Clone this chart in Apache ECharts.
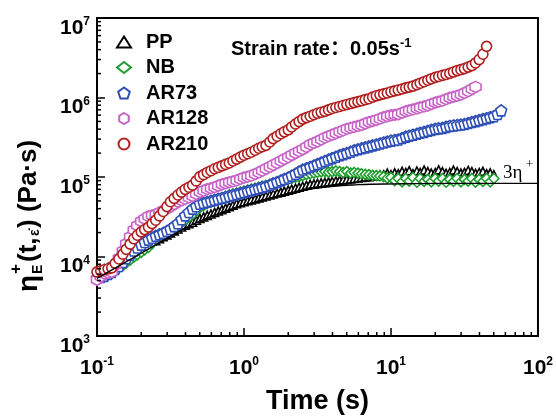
<!DOCTYPE html>
<html><head><meta charset="utf-8">
<script src="https://cdn.jsdelivr.net/npm/echarts@6/dist/echarts.min.js"></script>
<style>html,body{margin:0;padding:0;background:#fff}#c{width:556px;height:420px}</style>
</head><body><div id="c"></div>
<script>
// Time (s), shared sampling grid
const times = [0.1, 0.106, 0.112, 0.119, 0.126, 0.133, 0.141, 0.15, 0.158, 0.168,
  0.178, 0.188, 0.2, 0.211, 0.224, 0.237, 0.251, 0.266, 0.282, 0.299,
  0.316, 0.335, 0.355, 0.376, 0.398, 0.422, 0.447, 0.473, 0.501, 0.531,
  0.562, 0.596, 0.631, 0.668, 0.708, 0.75, 0.794, 0.841, 0.891, 0.944,
  1.0, 1.06, 1.12, 1.19, 1.26, 1.33, 1.41, 1.5, 1.58, 1.68,
  1.78, 1.88, 2.0, 2.11, 2.24, 2.37, 2.51, 2.66, 2.82, 2.99,
  3.16, 3.35, 3.55, 3.76, 3.98, 4.22, 4.47, 4.73, 5.01, 5.31,
  5.62, 5.96, 6.31, 6.68, 7.08, 7.5, 7.94, 8.41, 8.91, 9.44,
  10, 10.6, 11.2, 11.9, 12.6, 13.3, 14.1, 15.0, 15.8, 16.8,
  17.8, 18.8, 20.0, 21.1, 22.4, 23.7, 25.1, 26.6, 28.2, 29.9,
  31.6, 33.5, 35.5, 37.6, 39.8, 42.2, 44.7, 47.3, 50.1, 53.1,
  56.2, 59.6];

const PP = [6.2e3, 6.6e3, 7.0e3, 7.3e3, 7.6e3, 7.9e3, 8.3e3, 8.9e3, 9.5e3, 1.02e4,
  1.1e4, 1.3e4, 1.45e4, 1.5e4, 1.54e4, 1.56e4, 1.58e4, 1.67e4, 1.77e4, 1.87e4,
  1.98e4, 2.1e4, 2.22e4, 2.35e4, 2.48e4, 2.59e4, 2.7e4, 2.86e4, 3.02e4, 3.15e4,
  3.29e4, 3.43e4, 3.58e4, 3.73e4, 3.89e4, 4.06e4, 4.24e4, 4.42e4, 4.61e4, 4.74e4,
  4.88e4, 5.02e4, 5.16e4, 5.31e4, 5.46e4, 5.61e4, 5.77e4, 5.94e4, 6.11e4, 6.28e4,
  6.46e4, 6.65e4, 6.84e4, 7.03e4, 7.23e4, 7.44e4, 7.65e4, 7.87e4, 8.09e4, 8.2e4,
  8.32e4, 8.45e4, 8.57e4, 8.69e4, 8.81e4, 8.93e4, 9.06e4, 9.19e4, 9.32e4, 9.45e4,
  9.59e4, 9.72e4, 9.86e4, 1.0e5, 1.01e5, 1.03e5, 1.04e5, 1.06e5, 1.07e5, 1.12e5,
  1.07e5, 1.13e5, 1.1e5, 1.18e5, 1.14e5, 1.2e5, 1.1e5, 1.19e5, 1.14e5, 1.22e5,
  1.17e5, 1.12e5, 1.14e5, 1.23e5, 1.17e5, 1.11e5, 1.14e5, 1.22e5, 1.17e5, 1.12e5,
  1.14e5, 1.21e5, 1.17e5, 1.11e5, 1.14e5, 1.18e5, 1.1e5, 1.13e5, 1.07e5];

const NB = [5.1e3, 5.35e3, 5.6e3, 5.9e3, 6.2e3, 6.7e3, 7.2e3, 7.7e3, 8.3e3, 9.0e3,
  9.8e3, 1.05e4, 1.13e4, 1.21e4, 1.3e4, 1.46e4, 1.63e4, 1.77e4, 1.92e4, 2.03e4,
  2.15e4, 2.31e4, 2.48e4, 2.66e4, 2.86e4, 3.11e4, 3.38e4, 3.73e4, 4.12e4, 4.36e4,
  4.61e4, 4.81e4, 5.01e4, 5.23e4, 5.46e4, 5.69e4, 5.94e4, 6.11e4, 6.28e4, 6.46e4,
  6.65e4, 6.84e4, 7.03e4, 7.23e4, 7.44e4, 7.65e4, 7.87e4, 8.09e4, 8.32e4, 8.56e4,
  8.81e4, 9.06e4, 9.32e4, 9.59e4, 9.86e4, 1.01e5, 1.04e5, 1.07e5, 1.1e5, 1.12e5,
  1.14e5, 1.16e5, 1.17e5, 1.15e5, 1.17e5, 1.19e5, 1.17e5, 1.14e5, 1.17e5, 1.12e5,
  1.14e5, 1.12e5, 1.1e5, 1.08e5, 1.07e5, 1.05e5, 1.04e5, 1.03e5, 1.01e5, 9.7e4,
  9.86e4, 9.0e4, 9.59e4, 8.7e4, 9.59e4, 8.9e4, 9.86e4, 8.6e4, 9.59e4, 8.8e4,
  9.32e4, 8.7e4, 9.59e4, 8.9e4, 9.59e4, 8.6e4, 9.32e4, 8.8e4, 9.59e4, 8.7e4,
  9.32e4, 8.9e4, 9.59e4, 8.6e4, 9.32e4, 8.8e4, 9.59e4, 8.7e4, 9.59e4];

const AR73 = [5.4e3, 5.55e3, 5.7e3, 6.05e3, 6.4e3, 6.97e3, 7.6e3, 8.5e3, 9.5e3, 1.06e4,
  1.19e4, 1.3e4, 1.41e4, 1.52e4, 1.63e4, 1.72e4, 1.82e4, 1.9e4, 1.98e4, 2.1e4,
  2.22e4, 2.41e4, 2.62e4, 2.94e4, 3.29e4, 3.63e4, 4.0e4, 4.29e4, 4.61e4, 4.74e4,
  4.88e4, 5.02e4, 5.16e4, 5.31e4, 5.46e4, 5.61e4, 5.77e4, 5.94e4, 6.11e4, 6.28e4,
  6.46e4, 6.65e4, 6.84e4, 7.03e4, 7.23e4, 7.44e4, 7.65e4, 7.98e4, 8.32e4, 8.68e4,
  9.06e4, 9.45e4, 9.86e4, 1.04e5, 1.1e5, 1.17e5, 1.24e5, 1.29e5, 1.34e5, 1.4e5,
  1.46e5, 1.52e5, 1.59e5, 1.66e5, 1.73e5, 1.8e5, 1.88e5, 1.94e5, 2.0e5, 2.08e5,
  2.17e5, 2.23e5, 2.3e5, 2.36e5, 2.43e5, 2.5e5, 2.57e5, 2.64e5, 2.72e5, 2.79e5,
  2.87e5, 2.92e5, 2.96e5, 3.09e5, 3.22e5, 3.31e5, 3.4e5, 3.5e5, 3.6e5, 3.7e5,
  3.81e5, 3.92e5, 4.03e5, 4.09e5, 4.15e5, 4.27e5, 4.39e5, 4.45e5, 4.51e5, 4.57e5,
  4.64e5, 4.77e5, 4.91e5, 5.05e5, 5.2e5, 5.35e5, 5.5e5, 5.66e5, 5.82e5, 6.2e5,
  6.89e5];

const AR128 = [5.1e3, 5.6e3, 6.1e3, 6.25e3, 6.4e3, 7.8e3, 9.5e3, 1.17e4, 1.45e4, 1.77e4,
  2.15e4, 2.45e4, 2.78e4, 2.98e4, 3.2e4, 3.29e4, 3.38e4, 3.57e4, 3.78e4, 4.0e4,
  4.24e4, 4.55e4, 4.88e4, 5.09e4, 5.31e4, 5.53e4, 5.77e4, 6.1e4, 6.46e4, 6.74e4,
  7.03e4, 7.23e4, 7.44e4, 7.76e4, 8.09e4, 8.33e4, 8.57e4, 8.81e4, 9.06e4, 9.45e4,
  9.86e4, 1.01e5, 1.04e5, 1.09e5, 1.14e5, 1.2e5, 1.27e5, 1.34e5, 1.42e5, 1.5e5,
  1.59e5, 1.68e5, 1.78e5, 1.89e5, 2.0e5, 2.11e5, 2.23e5, 2.39e5, 2.57e5, 2.68e5,
  2.8e5, 2.96e5, 3.13e5, 3.26e5, 3.4e5, 3.55e5, 3.7e5, 3.86e5, 4.03e5, 4.15e5,
  4.27e5, 4.39e5, 4.51e5, 4.71e5, 4.91e5, 5.05e5, 5.2e5, 5.42e5, 5.65e5, 5.81e5,
  5.98e5, 6.06e5, 6.15e5, 6.42e5, 6.7e5, 6.89e5, 7.08e5, 7.29e5, 7.5e5, 7.71e5,
  7.93e5, 8.27e5, 8.63e5, 8.87e5, 9.12e5, 9.52e5, 9.93e5, 1.02e6, 1.05e6, 1.09e6,
  1.14e6, 1.2e6, 1.28e6, 1.36e6];

const AR210 = [6.4e3, 6.6e3, 6.8e3, 7.0e3, 7.2e3, 8.2e3, 9.3e3, 1.07e4, 1.23e4, 1.43e4,
  1.67e4, 1.85e4, 2.04e4, 2.18e4, 2.34e4, 2.59e4, 2.86e4, 3.24e4, 3.68e4, 4.24e4,
  4.88e4, 5.38e4, 5.94e4, 6.45e4, 7.0e4, 7.44e4, 7.9e4, 8.93e4, 1.01e5, 1.07e5,
  1.14e5, 1.2e5, 1.27e5, 1.32e5, 1.38e5, 1.44e5, 1.5e5, 1.59e5, 1.68e5, 1.78e5,
  1.88e5, 1.96e5, 2.05e5, 2.17e5, 2.3e5, 2.4e5, 2.5e5, 2.76e5, 3.04e5, 3.26e5,
  3.5e5, 3.7e5, 3.92e5, 4.26e5, 4.64e5, 4.98e5, 5.35e5, 5.58e5, 5.82e5, 6.07e5,
  6.33e5, 6.51e5, 6.7e5, 6.98e5, 7.28e5, 7.49e5, 7.71e5, 7.93e5, 8.15e5, 8.39e5,
  8.63e5, 8.87e5, 9.12e5, 9.39e5, 9.66e5, 1.01e6, 1.05e6, 1.08e6, 1.11e6, 1.14e6,
  1.18e6, 1.21e6, 1.24e6, 1.28e6, 1.32e6, 1.35e6, 1.39e6, 1.45e6, 1.51e6, 1.58e6,
  1.65e6, 1.72e6, 1.79e6, 1.84e6, 1.9e6, 1.95e6, 2.01e6, 2.09e6, 2.18e6, 2.24e6,
  2.31e6, 2.41e6, 2.52e6, 2.72e6, 3.0e6, 3.5e6, 4.4e6];

// 3*eta+ (linear viscoelastic envelope)
const lveTime = [0.1, 0.2, 0.46, 0.92, 1.8, 3.2, 6.0, 11, 20, 100];
const lveVal  = [5.3e3, 1.1e4, 2.6e4, 4.2e4, 5.9e4, 7.3e4, 8.0e4, 8.2e4, 8.3e4, 8.3e4];

const xTicks = [0.1, 1, 10, 100];
const yTicks = [1e3, 1e4, 1e5, 1e6, 1e7];

const seriesNames = ['PP', 'NB', 'AR73', 'AR128', 'AR210'];
const seriesColors = ['#000000', '#1f9e2e', '#2f4fb5', '#c763c7', '#b01e1e'];

const HEX = 'path://M0,-10L8.66,-5L8.66,5L0,10L-8.66,5L-8.66,-5Z';
const PENT = 'path://M0,-10L9.51,-3.09L5.88,8.09L-5.88,8.09L-9.51,-3.09Z';
const symbols = ['triangle', 'diamond', PENT, HEX, 'circle'];
const sizes = [8, 10, 11, 11, 10];
const values = [PP, NB, AR73, AR128, AR210];

const FONT = '"Liberation Sans", Arial, sans-serif';
const chart = echarts.init(document.getElementById('c'));

const minorMult = [2, 3, 4, 5, 6, 7, 8, 9];
const xMinor = []; [0.1, 1, 10].forEach(d => minorMult.forEach(m => xMinor.push(m * d)));
const yMinor = []; [1e3, 1e4, 1e5, 1e6].forEach(d => minorMult.forEach(m => yMinor.push(m * d)));

const labelRich = {
  b: {fontSize: 21, fontWeight: 'bold', fontFamily: FONT, color: '#000', lineHeight: 24},
  s: {fontSize: 12, fontWeight: 'bold', fontFamily: FONT, color: '#000', verticalAlign: 'top', lineHeight: 14}
};
function powLabel(v) {
  const e = Math.round(Math.log10(v));
  return '{b|10}{s|' + e + '}';
}

const series = values.map((vals, k) => ({
  name: seriesNames[k], type: 'scatter',
  data: vals.map((v, i) => [times[i], v]),
  symbol: symbols[k], symbolSize: sizes[k],
  itemStyle: {color: '#fff', borderColor: seriesColors[k], borderWidth: 1.6, opacity: 1},
  z: 2 + k
}));

series.push({
  name: 'LVE', type: 'line', data: lveTime.map((t, i) => [t, lveVal[i]]),
  smooth: 0.4, showSymbol: false, symbol: 'none',
  lineStyle: {color: '#000', width: 1.3}, z: 20
});
series.push({
  type: 'custom', silent: true, clip: false, z: 30,
  data: xMinor.map(v => [v, 1e3]),
  renderItem: (p, api) => {
    const c = api.coord([api.value(0), api.value(1)]);
    return {type: 'line', shape: {x1: c[0], y1: c[1], x2: c[0], y2: c[1] - 4}, style: {stroke: '#000', lineWidth: 1.5}};
  }
});
series.push({
  type: 'custom', silent: true, clip: false, z: 30,
  data: yMinor.map(v => [0.1, v]),
  renderItem: (p, api) => {
    const c = api.coord([api.value(0), api.value(1)]);
    return {type: 'line', shape: {x1: c[0], y1: c[1], x2: c[0] + 4, y2: c[1]}, style: {stroke: '#000', lineWidth: 1.5}};
  }
});

chart.setOption({
  animation: false,
  backgroundColor: '#fff',
  grid: {left: 97, right: 16, top: 18, bottom: 75, show: true, borderColor: '#000', borderWidth: 2, backgroundColor: 'transparent'},
  legend: {
    data: seriesNames.map(n => ({name: n})),
    orient: 'vertical', left: 111, top: 27, itemGap: 5.5, itemWidth: 14, itemHeight: 11,
    textStyle: {fontSize: 20, fontWeight: 'bold', fontFamily: FONT, color: '#000', padding: [0, 0, 0, 10]}
  },
  xAxis: {
    type: 'log', logBase: 10, min: xTicks[0], max: xTicks[xTicks.length - 1],
    name: 'Time (s)', nameLocation: 'middle', nameGap: 52,
    nameTextStyle: {fontSize: 27, fontWeight: 'bold', fontFamily: FONT, color: '#000'},
    axisLine: {show: true, lineStyle: {color: '#000', width: 2}},
    axisTick: {show: true, inside: true, length: 8, lineStyle: {color: '#000', width: 1.5}},
    axisLabel: {formatter: powLabel, rich: labelRich, margin: 20},
    splitLine: {show: false}
  },
  yAxis: {
    type: 'log', logBase: 10, min: yTicks[0], max: yTicks[yTicks.length - 1],
    axisLine: {show: true, lineStyle: {color: '#000', width: 2}},
    axisTick: {show: true, inside: true, length: 8, lineStyle: {color: '#000', width: 1.5}},
    axisLabel: {formatter: powLabel, rich: labelRich, margin: 7, padding: [20, 0, 0, 0]},
    splitLine: {show: false}
  },
  graphic: [
    {type: 'text', left: 231, top: 37, z: 50,
      style: {text: '{t|Strain rate：0.05s}{s|-1}', rich: {
        t: {fontSize: 20, fontWeight: 'bold', fontFamily: FONT + ', "Noto Sans CJK SC"', fill: '#000', lineHeight: 24},
        s: {fontSize: 13, fontWeight: 'bold', fontFamily: FONT, fill: '#000', verticalAlign: 'top', lineHeight: 13}
      }}},
    {type: 'text', left: 503, top: 164, z: 50,
      style: {text: '3η', font: '19px "Liberation Serif", serif', fill: '#000'}},
    {type: 'text', left: 526, top: 158, z: 50,
      style: {text: '+', font: '13px "Liberation Serif", serif', fill: '#000'}},
    {type: 'group', x: 29, y: 203, rotation: Math.PI / 2, z: 50, children: [
      {type: 'text', x: -89, y: 0, style: {text: 'η', font: 'bold 28px ' + FONT, fill: '#000', verticalAlign: 'middle'}},
      {type: 'text', x: -71, y: -13, style: {text: '+', font: 'bold 17px ' + FONT, fill: '#000', verticalAlign: 'middle'}},
      {type: 'text', x: -71, y: 9, style: {text: 'E', font: 'bold 14px ' + FONT, fill: '#000', verticalAlign: 'middle'}},
      {type: 'text', x: -59, y: 0, style: {text: '(t,', font: 'bold 26px ' + FONT, fill: '#000', verticalAlign: 'middle'}},
      {type: 'text', x: -33, y: 6, style: {text: 'ε̇', font: 'bold 14px ' + FONT, fill: '#000', verticalAlign: 'middle'}},
      {type: 'text', x: -25, y: 0, style: {text: ') (Pa·s)', font: 'bold 26px ' + FONT, fill: '#000', verticalAlign: 'middle'}}
    ]}
  ],
  series: series
});
</script></body></html>
